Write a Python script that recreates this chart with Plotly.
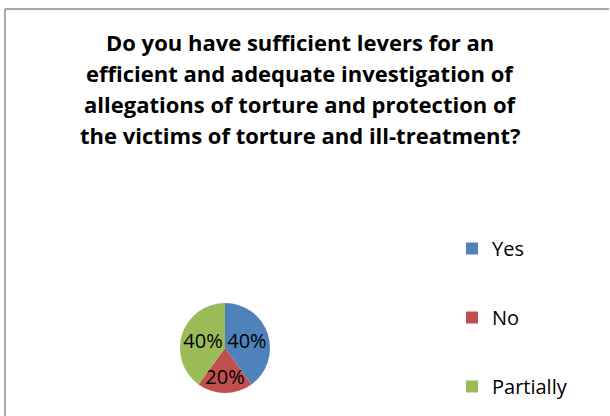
import plotly.graph_objects as go

# Data
categories = ["Yes", "No", "Partially"]
values = [40, 20, 40]
colors = ["#4F81BD", "#C0504D", "#9BBB59"]
title_lines = [
    "Do you have sufficient levers for an",
    "efficient and adequate investigation of",
    "allegations of torture and protection of",
    "the victims of torture and ill-treatment?",
]

W, H = 610, 416
FONT = "'Open Sans', 'Liberation Sans', sans-serif"

fig = go.Figure()

# pie
cx, cy, r = 225, 348, 45
fig.add_trace(go.Pie(
    labels=categories, values=values,
    marker=dict(colors=colors, line=dict(width=0)),
    sort=False, direction="clockwise", rotation=0,
    textinfo="percent", textposition="inside",
    insidetextorientation="horizontal",
    textfont=dict(family=FONT, size=20, color="black"),
    showlegend=False, hoverinfo="label+percent",
    domain=dict(x=[(cx - r) / W, (cx + r) / W], y=[(H - cy - r) / H, (H - cy + r) / H]),
))

# legend entries (one group per category so spacing can match)
for i, (c, col) in enumerate(zip(categories, colors)):
    fig.add_trace(go.Scatter(
        x=[None], y=[None], mode="markers", name=c,
        marker=dict(symbol="square", size=14, color=col),
        legendgroup=c, showlegend=True,
    ))

annotations = []
for i, line in enumerate(title_lines):
    yc = 42 + i * 31
    annotations.append(dict(
        text="<b>" + line + "</b>", x=300 / W, y=1 - yc / H,
        xref="paper", yref="paper", xanchor="center", yanchor="middle",
        showarrow=False, font=dict(family=FONT, size=22, color="black"),
    ))

shapes = [
    dict(type="line", xref="paper", yref="paper", x0=5 / W, x1=609 / W, y0=1 - 9 / H, y1=1 - 9 / H,
         line=dict(color="#8c8c8c", width=1.5)),
    dict(type="line", xref="paper", yref="paper", x0=5 / W, x1=5 / W, y0=1 - 9 / H, y1=0,
         line=dict(color="#8c8c8c", width=1.5)),
]

fig.update_layout(
    width=W, height=H,
    margin=dict(l=0, r=0, t=0, b=0),
    paper_bgcolor="white", plot_bgcolor="white",
    uniformtext=dict(minsize=20, mode="show"),
    xaxis=dict(visible=False), yaxis=dict(visible=False),
    legend=dict(
        x=452 / W, y=1 - 229 / H, xanchor="left", yanchor="top",
        font=dict(family=FONT, size=20, color="black"),
        tracegroupgap=40, bgcolor="rgba(0,0,0,0)", itemsizing="constant",
    ),
    annotations=annotations, shapes=shapes,
)

fig.write_html(
    "out.html",
    config={"displayModeBar": False},
    post_script="document.body.style.margin='0';document.body.style.overflow='hidden';",
)
